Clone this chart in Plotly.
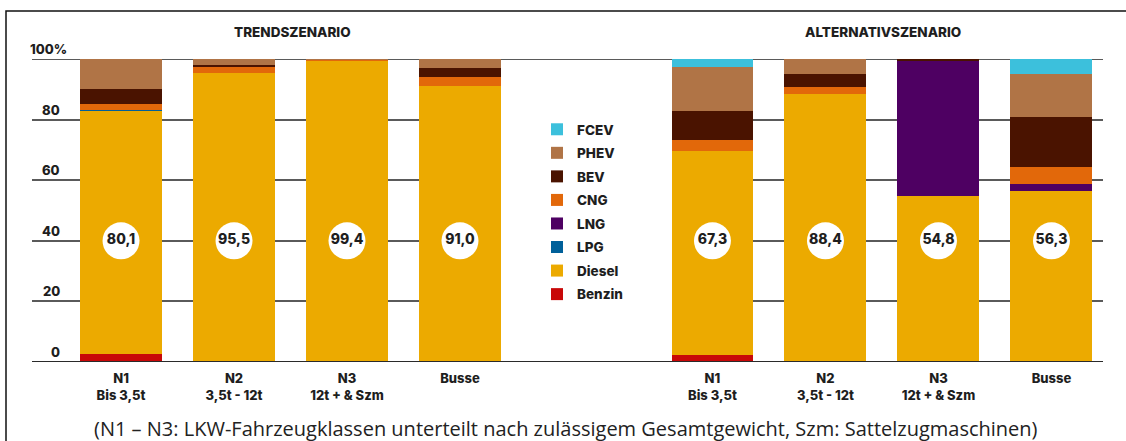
import plotly.graph_objects as go

# ---------------- data ----------------
categories = ["N1<br>Bis 3,5t", "N2<br>3,5t - 12t", "N3<br>12t + & Szm", "Busse"]
series_names = ["Benzin", "Diesel", "LPG", "LNG", "CNG", "BEV", "PHEV", "FCEV"]
legend_ranks = [8, 7, 6, 5, 4, 3, 2, 1]

trend_benzin = [2.8, 0.0, 0.0, 0.0]
trend_diesel = [80.1, 95.5, 99.4, 91.0]
trend_lpg = [0.4, 0.0, 0.0, 0.0]
trend_lng = [0.0, 0.0, 0.0, 0.0]
trend_cng = [2.0, 1.7, 0.3, 3.0]
trend_bev = [4.8, 0.7, 0.1, 2.9]
trend_phev = [9.9, 2.1, 0.2, 3.1]
trend_fcev = [0.0, 0.0, 0.0, 0.0]

alt_benzin = [2.3, 0.0, 0.0, 0.0]
alt_diesel = [67.3, 88.4, 54.8, 56.3]
alt_lpg = [0.0, 0.0, 0.0, 0.0]
alt_lng = [0.0, 0.0, 44.7, 2.4]
alt_cng = [3.7, 2.5, 0.0, 5.5]
alt_bev = [9.6, 4.3, 0.5, 16.8]
alt_phev = [14.6, 4.8, 0.0, 14.0]
alt_fcev = [2.5, 0.0, 0.0, 5.0]

y_ticks = [0, 20, 40, 60, 80, 100]
titles = ["TRENDSZENARIO", "ALTERNATIVSZENARIO"]
footer = "(N1 – N3: LKW-Fahrzeugklassen unterteilt nach zulässigem Gesamtgewicht, Szm: Sattelzugmaschinen)"

colors = {
    "Benzin": "#c80808",
    "Diesel": "#ecaa00",
    "LPG": "#00609a",
    "LNG": "#4e0062",
    "CNG": "#e2680a",
    "BEV": "#4a1300",
    "PHEV": "#b07446",
    "FCEV": "#3cc0dc",
}

trend = dict(zip(series_names, [trend_benzin, trend_diesel, trend_lpg, trend_lng,
                                trend_cng, trend_bev, trend_phev, trend_fcev]))
alt = dict(zip(series_names, [alt_benzin, alt_diesel, alt_lpg, alt_lng,
                              alt_cng, alt_bev, alt_phev, alt_fcev]))

W, H = 1126, 441
FONT = "Inter"
BOLD = 800
DARK = "#1e1e1e"

def px_x(p):
    return p / W

fig = go.Figure()

for name, rank in zip(series_names, legend_ranks):
    fig.add_trace(go.Bar(x=categories, y=trend[name], name=name, legendgroup=name,
                         legendrank=rank,
                         marker=dict(color=colors[name], line=dict(width=0)),
                         xaxis="x", yaxis="y", hoverinfo="skip"))
    fig.add_trace(go.Bar(x=categories, y=alt[name], name=name, legendgroup=name,
                         legendrank=rank, showlegend=False,
                         marker=dict(color=colors[name], line=dict(width=0)),
                         xaxis="x2", yaxis="y2", hoverinfo="skip"))

# value circles (Diesel share)
label_level = [40] * len(categories)
for vals, xa, ya in [(trend_diesel, "x", "y"), (alt_diesel, "x2", "y2")]:
    fig.add_trace(go.Scatter(
        x=categories, y=label_level, mode="markers+text",
        text=[f"{v:.1f}".replace(".", ",") for v in vals],
        textposition="middle center",
        textfont=dict(family=FONT, size=14, color=DARK, weight=BOLD),
        marker=dict(size=37, color="white", line=dict(width=0)),
        showlegend=False, hoverinfo="skip", xaxis=xa, yaxis=ya, cliponaxis=False))

xcommon = dict(type="category", showgrid=False, zeroline=False, showline=False,
               ticks="", ticklabelstandoff=7,
               tickfont=dict(family=FONT, size=13, color=DARK, weight=BOLD),
               fixedrange=True)
ycommon = dict(range=[0, 100], tickvals=[20, 40, 60, 80], showticklabels=False,
               showgrid=True, gridcolor="#5a5a5a", gridwidth=2, zeroline=False,
               showline=False, fixedrange=True)

fig.update_layout(
    width=W, height=H,
    margin=dict(l=0, r=0, t=59, b=79),
    paper_bgcolor="white", plot_bgcolor="white",
    barmode="stack", bargap=0.274,
    xaxis=dict(domain=[px_x(32), px_x(501)], range=[-0.788, 3.363], anchor="y", **xcommon),
    xaxis2=dict(domain=[px_x(672), px_x(1103)], range=[-0.358, 3.456], anchor="y2", **xcommon),
    yaxis=dict(anchor="x", **ycommon),
    yaxis2=dict(anchor="x2", **ycommon),
    legend=dict(x=px_x(537), y=(362 - 114) / 303, xanchor="left", yanchor="top",
                traceorder="grouped", tracegroupgap=3,
                font=dict(family=FONT, size=13.5, color=DARK, weight=BOLD),
                bgcolor="rgba(0,0,0,0)"),
    showlegend=True,
)

# frame
fig.add_shape(type="rect", xref="paper", yref="paper",
              x0=px_x(6), x1=1.02, y0=(362 - 460) / 303, y1=(362 - 11) / 303,
              line=dict(color="#111111", width=1.5), fillcolor="rgba(0,0,0,0)", layer="below")
# 0 and 100 lines across full width
fig.add_shape(type="line", xref="paper", yref="y", x0=px_x(32), x1=px_x(1103), y0=100, y1=100,
              line=dict(color="#5a5a5a", width=2), layer="below")
fig.add_shape(type="line", xref="paper", yref="y", x0=px_x(32), x1=px_x(1103), y0=0, y1=0,
              line=dict(color="#2a2a2a", width=2), layer="above")

# y tick labels sitting above the lines
for t in y_ticks:
    if t == 100:
        fig.add_annotation(x=px_x(28), y=t, xref="paper", yref="y", text="100%",
                           showarrow=False, xanchor="left", yanchor="bottom", yshift=0,
                           font=dict(family=FONT, size=13, color=DARK, weight=BOLD))
    else:
        fig.add_annotation(x=px_x(62), y=t, xref="paper", yref="y", text=str(t),
                           showarrow=False, xanchor="right", yanchor="bottom", yshift=0,
                           font=dict(family=FONT, size=13, color=DARK, weight=BOLD))

# scenario titles
for title, cx in zip(titles, [292, 883]):
    fig.add_annotation(x=px_x(cx), y=(362 - 32) / 303, xref="paper", yref="paper", text=title,
                       showarrow=False, xanchor="center", yanchor="middle",
                       font=dict(family=FONT, size=13.5, color=DARK, weight=BOLD))

# footer
fig.add_annotation(x=px_x(566), y=(362 - 428) / 303, xref="paper", yref="paper", text=footer,
                   showarrow=False, xanchor="center", yanchor="middle",
                   font=dict(family="Open Sans", size=20, color="#222222"))

fig.write_html("out.html", config={"displayModeBar": False},
               post_script="document.body.style.margin='0';document.body.style.overflow='hidden';")
